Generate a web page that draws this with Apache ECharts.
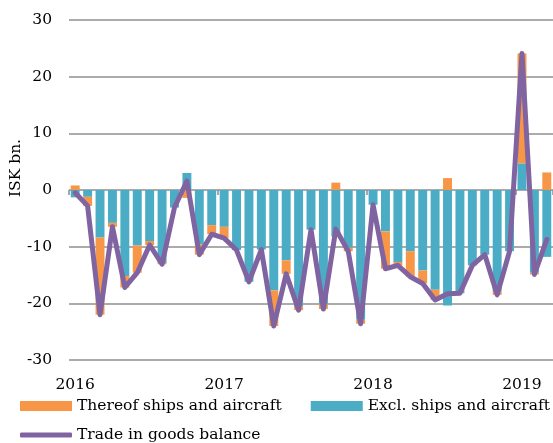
<!DOCTYPE html>
<html>
<head>
<meta charset="utf-8">
<script src="https://cdn.jsdelivr.net/npm/echarts@6/dist/echarts.min.js"></script>
<style>
  html, body { margin: 0; padding: 0; background: #fff; }
  #chart { width: 553px; height: 443px; }
</style>
</head>
<body>
<div id="chart"></div>
<script>
// Monthly trade in goods, Jan 2016 – Mar 2019 (ISK bn.)
const months = [
  '2016-01','2016-02','2016-03','2016-04','2016-05','2016-06','2016-07','2016-08','2016-09','2016-10','2016-11','2016-12',
  '2017-01','2017-02','2017-03','2017-04','2017-05','2017-06','2017-07','2017-08','2017-09','2017-10','2017-11','2017-12',
  '2018-01','2018-02','2018-03','2018-04','2018-05','2018-06','2018-07','2018-08','2018-09','2018-10','2018-11','2018-12',
  '2019-01','2019-02','2019-03'
];

// Balance excluding ships and aircraft
const exclShips = [
  -1.3, -1.2, -8.4, -5.8, -15.2, -9.8, -9.0, -12.9, -3.1, 3.0, -9.6, -6.2,
  -6.5, -10.6, -16.2, -10.5, -17.7, -12.4, -20.5, -7.0, -20.2, -8.2, -10.2, -22.9,
  -2.6, -7.3, -12.7, -10.8, -14.2, -17.6, -20.4, -18.2, -13.3, -11.4, -17.9, -10.8,
  4.7, -14.6, -11.8
];

// Of which ships and aircraft
const shipsAircraft = [
  0.8, -1.6, -13.6, -0.7, -2.0, -4.8, -0.7, -0.2, 0, -1.4, -1.8, -1.6,
  -2.0, 0, 0, 0, -6.3, -2.4, -0.7, 0, -0.8, 1.3, -0.6, -0.7,
  0, -6.6, -0.6, -4.5, -2.3, -1.8, 2.1, 0, 0, 0, -0.6, 0,
  19.4, -0.3, 3.1
];

// Total trade in goods balance
const goodsBalance = [
  -0.5, -2.8, -22.0, -6.5, -17.2, -14.6, -9.7, -13.1, -3.1, 1.6, -11.4, -7.8,
  -8.5, -10.6, -16.2, -10.5, -24.0, -14.8, -21.2, -7.0, -21.0, -6.9, -10.8, -23.6,
  -2.6, -13.9, -13.3, -15.3, -16.5, -19.4, -18.3, -18.2, -13.3, -11.4, -18.5, -10.8,
  24.1, -14.9, -8.7
];

const yTicks = { min: -30, max: 30, step: 10 };

const ORANGE = '#F79646';
const TEAL = '#4BACC6';
const PURPLE = '#8064A2';
const FONT = 'DejaVu Serif';
const FS = 15.5;

const chart = echarts.init(document.getElementById('chart'), null, { renderer: 'canvas' });

chart.setOption({
  animation: false,
  backgroundColor: '#fff',
  textStyle: { fontFamily: FONT },
  grid: { left: 69, right: -2, top: 20, bottom: 83, containLabel: false },
  legend: [
    {
      data: ['Thereof ships and aircraft', 'Excl. ships and aircraft'],
      left: 20, top: 398, padding: 0,
      itemWidth: 52, itemHeight: 10, itemGap: 29,
      icon: 'rect',
      textStyle: { fontFamily: FONT, fontSize: FS, color: '#000' }
    },
    {
      data: ['Trade in goods balance'],
      left: 20, top: 427, padding: 0,
      itemWidth: 52, itemHeight: 5,
      icon: 'roundRect',
      textStyle: { fontFamily: FONT, fontSize: FS, color: '#000' }
    }
  ],
  xAxis: [
    {
      type: 'category',
      data: months,
      position: 'bottom',
      axisLine: { show: false, onZero: false },
      axisTick: { show: false },
      splitLine: { show: false },
      axisLabel: {
        interval: (idx) => idx % 12 === 0,
        formatter: (v) => v.slice(0, 4),
        margin: 17,
        fontFamily: FONT, fontSize: FS, color: '#000'
      }
    },
    {
      type: 'category',
      data: months,
      position: 'bottom',
      axisLine: { show: false, onZero: true },
      axisTick: {
        show: true, interval: (idx) => idx % 12 === 0, length: 5,
        lineStyle: { color: '#8c8c8c', width: 1.5 }
      },
      axisLabel: { show: false },
      splitLine: { show: false }
    }
  ],
  yAxis: {
    type: 'value',
    min: yTicks.min, max: yTicks.max, interval: yTicks.step,
    axisLine: { show: false },
    axisTick: { show: false },
    axisLabel: { margin: 17, fontFamily: FONT, fontSize: FS, color: '#000' },
    splitLine: { lineStyle: { color: '#8f8f8f', width: 1.5 } }
  },
  graphic: [
    {
      type: 'text',
      x: 16, y: 168,
      rotation: Math.PI / 2,
      style: {
        text: 'ISK bn.',
        font: FS + 'px "' + FONT + '"',
        fill: '#000',
        align: 'center',
        verticalAlign: 'middle'
      }
    }
  ],
  series: [
    {
      name: 'Excl. ships and aircraft',
      type: 'bar',
      stack: 'goods',
      data: exclShips,
      barCategoryGap: '28%',
      itemStyle: { color: TEAL }
    },
    {
      name: 'Thereof ships and aircraft',
      type: 'bar',
      stack: 'goods',
      data: shipsAircraft,
      itemStyle: { color: ORANGE }
    },
    {
      name: 'Trade in goods balance',
      type: 'line',
      data: goodsBalance,
      symbol: 'none',
      z: 5,
      lineStyle: { color: PURPLE, width: 5, join: 'round', cap: 'round' },
      itemStyle: { color: PURPLE }
    }
  ]
});
</script>
</body>
</html>
